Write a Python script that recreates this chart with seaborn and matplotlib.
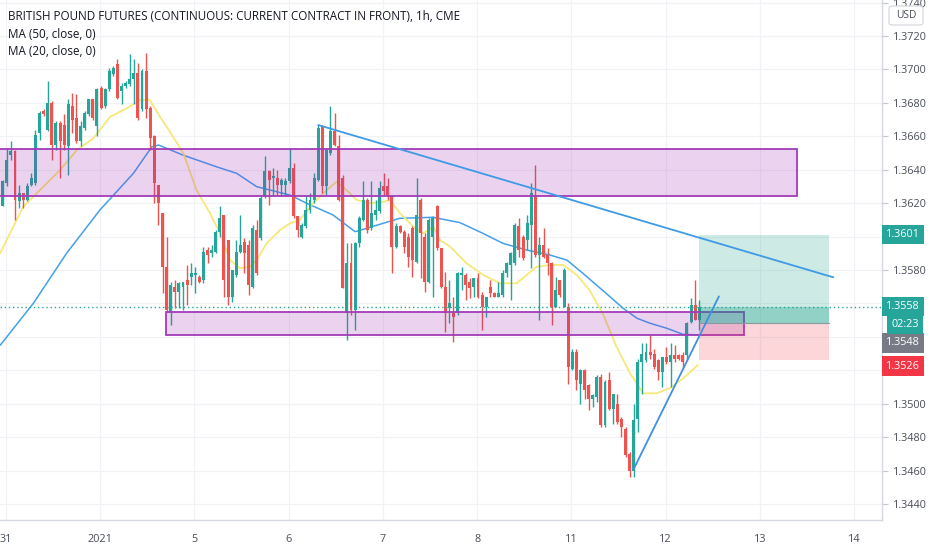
import numpy as np
import pandas as pd
import seaborn as sns
import matplotlib.pyplot as plt
import matplotlib.transforms as mtransforms
from matplotlib.patches import Rectangle, FancyBboxPatch

# 6B continuous, 1h candles, Dec 31 2020 -> Jan 12 2021
opens = [1.3618, 1.3632, 1.3649, 1.3651, 1.3621, 1.3626, 1.3622, 1.3631, 1.3632, 1.3662,
         1.3675, 1.3664, 1.3680, 1.3655, 1.3668, 1.3667, 1.3654, 1.3678, 1.3671, 1.3657,
         1.3665, 1.3673, 1.3682, 1.3666, 1.3689, 1.3678, 1.3688, 1.3697, 1.3703, 1.3687,
         1.3690, 1.3691, 1.3694, 1.3698, 1.3676, 1.3699, 1.3677, 1.3660, 1.3631, 1.3614,
         1.3582, 1.3555, 1.3570, 1.3567, 1.3570, 1.3574, 1.3576, 1.3577, 1.3576, 1.3574,
         1.3592, 1.3590, 1.3591, 1.3603, 1.3613, 1.3598, 1.3564, 1.3577, 1.3591, 1.3597,
         1.3595, 1.3570, 1.3604, 1.3599, 1.3624, 1.3639, 1.3635, 1.3635, 1.3631, 1.3631,
         1.3633, 1.3641, 1.3612, 1.3600, 1.3606, 1.3616, 1.3622, 1.3634, 1.3666, 1.3630,
         1.3650, 1.3663, 1.3654, 1.3635, 1.3554, 1.3584, 1.3556, 1.3596, 1.3610, 1.3622,
         1.3605, 1.3613, 1.3615, 1.3630, 1.3630, 1.3625, 1.3594, 1.3606, 1.3603, 1.3600,
         1.3605, 1.3585, 1.3622, 1.3600, 1.3573, 1.3600, 1.3618, 1.3593, 1.3570, 1.3557,
         1.3554, 1.3554, 1.3577, 1.3577, 1.3573, 1.3570, 1.3575, 1.3565, 1.3558, 1.3570,
         1.3566, 1.3564, 1.3565, 1.3578, 1.3583, 1.3584, 1.3606, 1.3600, 1.3598, 1.3607,
         1.3625, 1.3589, 1.3595, 1.3589, 1.3584, 1.3558, 1.3574, 1.3558, 1.3558, 1.3521,
         1.3531, 1.3512, 1.3520, 1.3511, 1.3503, 1.3504, 1.3516, 1.3487, 1.3514, 1.3497,
         1.3500, 1.3491, 1.3485, 1.3470, 1.3460, 1.3491, 1.3525, 1.3526, 1.3531, 1.3530,
         1.3526, 1.3519, 1.3528, 1.3525, 1.3529, 1.3529, 1.3529, 1.3529, 1.3549, 1.3559,
         1.3550]
highs = [1.3634, 1.3653, 1.3657, 1.3652, 1.3631, 1.3626, 1.3632, 1.3638, 1.3664, 1.3675,
         1.3676, 1.3693, 1.3681, 1.3669, 1.3669, 1.3673, 1.3682, 1.3686, 1.3685, 1.3669,
         1.3675, 1.3682, 1.3682, 1.3689, 1.3690, 1.3689, 1.3701, 1.3702, 1.3706, 1.3692,
         1.3693, 1.3709, 1.3706, 1.3704, 1.3700, 1.3710, 1.3678, 1.3661, 1.3631, 1.3614,
         1.3600, 1.3573, 1.3574, 1.3573, 1.3573, 1.3583, 1.3584, 1.3582, 1.3577, 1.3594,
         1.3594, 1.3595, 1.3604, 1.3618, 1.3613, 1.3598, 1.3580, 1.3598, 1.3613, 1.3599,
         1.3598, 1.3607, 1.3610, 1.3624, 1.3648, 1.3640, 1.3641, 1.3640, 1.3635, 1.3635,
         1.3653, 1.3644, 1.3612, 1.3608, 1.3624, 1.3626, 1.3638, 1.3667, 1.3667, 1.3653,
         1.3678, 1.3674, 1.3661, 1.3637, 1.3596, 1.3596, 1.3597, 1.3612, 1.3633, 1.3623,
         1.3633, 1.3622, 1.3633, 1.3638, 1.3635, 1.3625, 1.3608, 1.3607, 1.3604, 1.3602,
         1.3606, 1.3635, 1.3623, 1.3602, 1.3611, 1.3612, 1.3619, 1.3593, 1.3579, 1.3574,
         1.3564, 1.3579, 1.3582, 1.3578, 1.3575, 1.3575, 1.3578, 1.3567, 1.3564, 1.3574,
         1.3567, 1.3573, 1.3580, 1.3585, 1.3591, 1.3608, 1.3611, 1.3601, 1.3613, 1.3632,
         1.3643, 1.3600, 1.3605, 1.3593, 1.3585, 1.3576, 1.3574, 1.3581, 1.3560, 1.3533,
         1.3533, 1.3521, 1.3521, 1.3512, 1.3506, 1.3517, 1.3518, 1.3514, 1.3519, 1.3506,
         1.3506, 1.3492, 1.3486, 1.3471, 1.3500, 1.3527, 1.3536, 1.3536, 1.3541, 1.3533,
         1.3527, 1.3528, 1.3534, 1.3536, 1.3535, 1.3530, 1.3531, 1.3549, 1.3563, 1.3574,
         1.3562]
lows = [1.3618, 1.3630, 1.3646, 1.3610, 1.3617, 1.3617, 1.3621, 1.3630, 1.3631, 1.3658,
        1.3672, 1.3663, 1.3646, 1.3652, 1.3635, 1.3652, 1.3637, 1.3662, 1.3656, 1.3654,
        1.3664, 1.3672, 1.3670, 1.3660, 1.3676, 1.3677, 1.3687, 1.3696, 1.3682, 1.3679,
        1.3689, 1.3690, 1.3679, 1.3670, 1.3675, 1.3671, 1.3652, 1.3620, 1.3607, 1.3566,
        1.3555, 1.3547, 1.3557, 1.3557, 1.3556, 1.3559, 1.3571, 1.3566, 1.3572, 1.3572,
        1.3584, 1.3588, 1.3590, 1.3600, 1.3564, 1.3559, 1.3561, 1.3576, 1.3590, 1.3578,
        1.3565, 1.3569, 1.3577, 1.3598, 1.3623, 1.3619, 1.3624, 1.3625, 1.3624, 1.3624,
        1.3632, 1.3611, 1.3600, 1.3599, 1.3605, 1.3614, 1.3620, 1.3633, 1.3626, 1.3625,
        1.3649, 1.3654, 1.3621, 1.3569, 1.3538, 1.3553, 1.3544, 1.3594, 1.3609, 1.3602,
        1.3604, 1.3610, 1.3614, 1.3625, 1.3622, 1.3578, 1.3593, 1.3602, 1.3590, 1.3582,
        1.3576, 1.3584, 1.3575, 1.3567, 1.3572, 1.3564, 1.3592, 1.3569, 1.3543, 1.3548,
        1.3537, 1.3553, 1.3568, 1.3562, 1.3563, 1.3564, 1.3563, 1.3544, 1.3552, 1.3564,
        1.3564, 1.3564, 1.3564, 1.3576, 1.3562, 1.3583, 1.3588, 1.3586, 1.3592, 1.3581,
        1.3588, 1.3550, 1.3587, 1.3577, 1.3547, 1.3558, 1.3564, 1.3558, 1.3512, 1.3520,
        1.3508, 1.3500, 1.3503, 1.3496, 1.3498, 1.3501, 1.3486, 1.3486, 1.3496, 1.3488,
        1.3488, 1.3480, 1.3468, 1.3456, 1.3456, 1.3483, 1.3506, 1.3525, 1.3527, 1.3521,
        1.3514, 1.3510, 1.3524, 1.3510, 1.3525, 1.3526, 1.3521, 1.3526, 1.3548, 1.3550,
        1.3544]
closes = [1.3633, 1.3646, 1.3651, 1.3622, 1.3626, 1.3622, 1.3630, 1.3635, 1.3661, 1.3674,
          1.3673, 1.3680, 1.3655, 1.3668, 1.3657, 1.3655, 1.3679, 1.3670, 1.3657, 1.3666,
          1.3674, 1.3682, 1.3671, 1.3688, 1.3677, 1.3688, 1.3699, 1.3701, 1.3683, 1.3690,
          1.3692, 1.3694, 1.3698, 1.3671, 1.3699, 1.3676, 1.3659, 1.3632, 1.3620, 1.3582,
          1.3556, 1.3571, 1.3567, 1.3572, 1.3573, 1.3571, 1.3578, 1.3578, 1.3573, 1.3591,
          1.3589, 1.3592, 1.3603, 1.3611, 1.3574, 1.3564, 1.3580, 1.3591, 1.3595, 1.3590,
          1.3571, 1.3605, 1.3578, 1.3623, 1.3639, 1.3634, 1.3636, 1.3631, 1.3634, 1.3633,
          1.3641, 1.3612, 1.3604, 1.3607, 1.3616, 1.3622, 1.3635, 1.3665, 1.3630, 1.3652,
          1.3663, 1.3655, 1.3622, 1.3569, 1.3584, 1.3556, 1.3596, 1.3611, 1.3622, 1.3604,
          1.3614, 1.3616, 1.3629, 1.3627, 1.3625, 1.3594, 1.3606, 1.3603, 1.3594, 1.3588,
          1.3586, 1.3613, 1.3602, 1.3573, 1.3610, 1.3611, 1.3593, 1.3570, 1.3554, 1.3560,
          1.3552, 1.3578, 1.3578, 1.3571, 1.3569, 1.3575, 1.3564, 1.3558, 1.3564, 1.3566,
          1.3564, 1.3566, 1.3578, 1.3584, 1.3590, 1.3607, 1.3592, 1.3587, 1.3608, 1.3626,
          1.3589, 1.3595, 1.3588, 1.3584, 1.3558, 1.3568, 1.3565, 1.3580, 1.3522, 1.3531,
          1.3514, 1.3520, 1.3508, 1.3503, 1.3505, 1.3516, 1.3487, 1.3513, 1.3497, 1.3506,
          1.3489, 1.3486, 1.3469, 1.3460, 1.3490, 1.3525, 1.3530, 1.3531, 1.3529, 1.3522,
          1.3519, 1.3528, 1.3525, 1.3529, 1.3527, 1.3527, 1.3525, 1.3548, 1.3559, 1.3550,
          1.3558]

# moving averages as drawn (bar index, price)
ma50_bars = [-0.6, 7.5, 15.6, 23.7, 31.9, 36.4, 38.1, 44, 52.2, 57.1, 62, 70.1, 74.2,
             80.6, 86, 88.8, 96.9, 105, 111.6, 117.2, 122.1, 127.9, 133.6, 137.7, 141.6,
             148.2, 151.4, 154.8, 158, 162.1, 166, 170.2]
ma50_vals = [1.35350, 1.35601, 1.35900, 1.36158, 1.36378, 1.36537, 1.36547, 1.36487,
             1.36417, 1.36378, 1.36298, 1.36248, 1.36199, 1.36129, 1.36029, 1.36049,
             1.36109, 1.36115, 1.36083, 1.36019, 1.35959, 1.35919, 1.35889, 1.35859,
             1.35780, 1.35640, 1.35571, 1.35511, 1.35481, 1.35451, 1.35415, 1.35411]
ma20_bars = [-0.6, 5.0, 9.1, 14.0, 18.1, 22.1, 26.2, 30.3, 33.5, 35.9, 38.4, 40.8, 44.1,
             47.3, 50.6, 53.0, 55.5, 57.9, 60.3, 62.0, 64.4, 67.7, 70.1, 72.5, 75.8, 79.1,
             81.5, 83.9, 86.4, 89.6, 92.9, 94.5, 97.0, 100.2, 102.6, 105.1, 106.7, 109.2,
             113.2, 117.3, 121.4, 125.4, 127.9, 130.3, 133.5, 136.8, 140.1, 143.3, 146.6,
             149.8, 153.1, 156.3, 159.6, 162.8, 166.1, 169.7]
ma20_vals = [1.35900, 1.36178, 1.36278, 1.36398, 1.36517, 1.36587, 1.36716, 1.36767,
             1.36817, 1.36817, 1.36716, 1.36627, 1.36498, 1.36278, 1.36139, 1.36019,
             1.35859, 1.35810, 1.35819, 1.35859, 1.35959, 1.36039, 1.36079, 1.36099,
             1.36199, 1.36278, 1.36328, 1.36278, 1.36218, 1.36199, 1.36208, 1.36218,
             1.36139, 1.36059, 1.36019, 1.36059, 1.35979, 1.35939, 1.35840, 1.35770,
             1.35720, 1.35720, 1.35770, 1.35819, 1.35830, 1.35830, 1.35770, 1.35676,
             1.35531, 1.35341, 1.35182, 1.35062, 1.35062, 1.35092, 1.35152, 1.35232]

day_labels = ["31", "2021", "5", "6", "7", "8", "11", "12", "13", "14"]
day_starts = [0.8, 23.8, 46.8, 69.8, 92.8, 115.8, 138.8, 161.8, 184.8, 207.8]
price_ticks = [1.3440, 1.3460, 1.3480, 1.3500, 1.3520, 1.3540, 1.3560, 1.3580,
               1.3600, 1.3620, 1.3640, 1.3660, 1.3680, 1.3700, 1.3720, 1.3740]
# scale labels covered by the price tags
hidden_ticks = [1.3520, 1.3540, 1.3560, 1.3600]

# drawings (bar, price)
upper_zone = (-1.0, 193.8, 1.36242, 1.36524)
lower_zone = (39.8, 181.0, 1.35409, 1.35550)
down_trend = ([77.0, 202.7], [1.36667, 1.35756])
up_trend = ([153.9, 174.8], [1.34604, 1.35642])
pos_bars = (169.9, 201.7)
target, entry, stop = 1.3601, 1.3548, 1.3526

UP, DOWN = "#26a69a", "#ef5350"
GRID = "#f0f2f6"
TXT = "#4a4e59"

sns.set_theme(style="white")
plt.rcParams["font.family"] = ["Open Sans", "DejaVu Sans"]

df = pd.DataFrame({"open": opens, "high": highs, "low": lows, "close": closes})
df["bar"] = np.arange(len(df))
df["color"] = np.where(df["close"] >= df["open"], UP, DOWN)
df["body_lo"] = df[["open", "close"]].min(axis=1)
df["body_h"] = (df["close"] - df["open"]).abs().clip(lower=0.00003)
last = df["close"].iloc[-1]

fig = plt.figure(figsize=(9.32, 5.5), dpi=100)
ax = fig.add_axes([0, 30 / 550, 882 / 932, 520 / 550])

for p in price_ticks:
    ax.axhline(p, color=GRID, lw=0.9, zorder=0)
for d in day_starts:
    ax.axvline(d, color=GRID, lw=0.9, zorder=0)

# moving averages
sns.lineplot(x=ma50_bars, y=ma50_vals, ax=ax, color="#45a0ec", lw=1.1,
             sort=False, estimator=None, zorder=2)
sns.lineplot(x=ma20_bars, y=ma20_vals, ax=ax, color="#f6e879", lw=1.3,
             sort=False, estimator=None, zorder=2)

# candles
ax.vlines(df["bar"], df["low"], df["high"], colors=df["color"], lw=1.0, zorder=3)
ax.bar(df["bar"], df["body_h"], bottom=df["body_lo"], width=0.72,
       color=df["color"], linewidth=0, zorder=4)

# zones
purple = (156 / 255, 39 / 255, 176 / 255)
for x0, x1, lo, hi in (upper_zone, lower_zone):
    ax.add_patch(Rectangle((x0, lo), x1 - x0, hi - lo, facecolor=purple + (0.2,),
                           edgecolor="#a23bb8", lw=1.3, zorder=5))

# long position tool
px0, px1 = pos_bars
ax.add_patch(Rectangle((px0, entry), px1 - px0, target - entry,
                       facecolor=(8 / 255, 153 / 255, 129 / 255, 0.2), lw=0, zorder=5))
ax.add_patch(Rectangle((px0, stop), px1 - px0, entry - stop,
                       facecolor=(242 / 255, 54 / 255, 69 / 255, 0.2), lw=0, zorder=5))
ax.add_patch(Rectangle((px0, entry), px1 - px0, last - entry,
                       facecolor=(8 / 255, 153 / 255, 129 / 255, 0.3), lw=0, zorder=5))
ax.plot([px0, px1], [entry, entry], color="#8a9a9c", lw=0.8, zorder=5)

# trend lines
ax.plot(*down_trend, color="#3f9ae6", lw=1.3, zorder=6)
ax.plot(*up_trend, color="#3f8fe3", lw=1.3, zorder=6)

ax.axhline(last, color=UP, lw=1.0, ls=(0, (1, 2)), zorder=6)

ax.set_xlim(-0.66, 214.6)
ax.set_ylim(1.34304, 1.37415)
ax.yaxis.tick_right()
ax.set_yticks(price_ticks)
ax.set_yticklabels(["" if p in hidden_ticks else f"{p:.4f}" for p in price_ticks])
ax.set_xticks(day_starts)
ax.set_xticklabels(day_labels)
ax.tick_params(axis="both", length=4, width=0.8, color="#c5c8d0", labelsize=7.8,
               labelcolor=TXT, direction="out")
ax.tick_params(axis="y", pad=4)
ax.tick_params(axis="x", pad=6)
ax.set_xlabel("")
ax.set_ylabel("")
for side in ("top", "left"):
    ax.spines[side].set_visible(False)
for side in ("right", "bottom"):
    ax.spines[side].set_color("#d6d9e0")
    ax.spines[side].set_linewidth(1.0)

# price tags on the scale
tr = mtransforms.blended_transform_factory(fig.transFigure, ax.transData)
tags = [("1.3601", UP, target), (f"{last:.4f}", UP, last),
        ("1.3548", "#787b86", 1.35363), ("1.3526", "#f23645", 1.35225)]
for txt, col, ypos in tags:
    ax.text(886 / 932, ypos, txt, transform=tr, ha="left", va="center", fontsize=7.8,
            color="white", zorder=10, clip_on=False,
            bbox=dict(boxstyle="square,pad=0.38", fc=col, ec="none"))
ax.text(891 / 932, 1.35475, "02:23", transform=tr, ha="left", va="center", fontsize=7.8,
        color="white", zorder=10, clip_on=False,
        bbox=dict(boxstyle="square,pad=0.38", fc=UP, ec="none"))

# currency badge
fig.patches.append(FancyBboxPatch((889 / 932, 1 - 25 / 550), 34 / 932, 19 / 550,
                                  boxstyle="round,pad=0,rounding_size=0.004",
                                  transform=fig.transFigure, fc="white", ec="#d1d4dc",
                                  lw=0.8, zorder=20))
fig.text(906 / 932, 1 - 15.5 / 550, "USD", ha="center", va="center", fontsize=7.4,
         color=TXT, zorder=21)

# legend text
fig.text(8 / 932, 1 - 17 / 550,
         "BRITISH POUND FUTURES (CONTINUOUS: CURRENT CONTRACT IN FRONT), 1h, CME",
         ha="left", va="center", fontsize=8.4, color="#131722")
fig.text(8 / 932, 1 - 35 / 550, "MA (50, close, 0)", ha="left", va="center",
         fontsize=8.4, color="#131722")
fig.text(8 / 932, 1 - 52 / 550, "MA (20, close, 0)", ha="left", va="center",
         fontsize=8.4, color="#131722")

fig.savefig("out.png", dpi=100)
